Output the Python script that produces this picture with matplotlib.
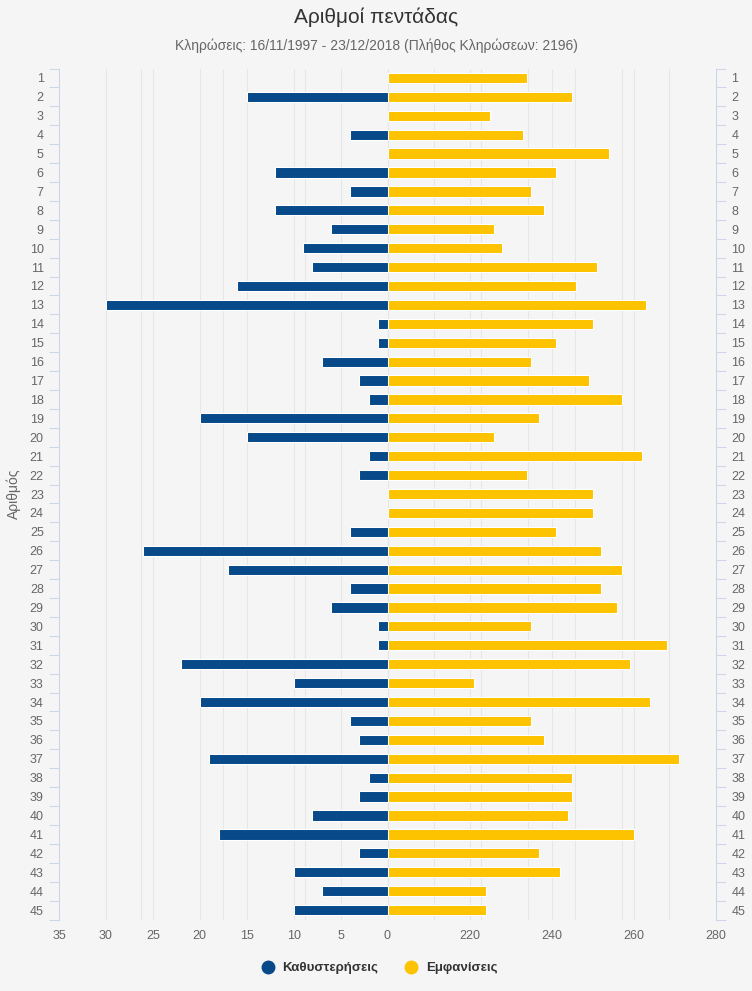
import matplotlib.pyplot as plt
from matplotlib.lines import Line2D
from matplotlib.transforms import blended_transform_factory

plt.rcParams['font.family'] = ['Liberation Sans', 'DejaVu Sans']

numbers = list(range(1, 46))
delays = [0, 15, 0, 4, 0, 12, 4, 12, 6, 9, 8, 16, 30, 1, 1, 7, 3, 2, 20, 15,
          2, 3, 0, 0, 4, 26, 17, 4, 6, 1, 1, 22, 10, 20, 4, 3, 19, 2, 3, 8,
          18, 3, 10, 7, 10]
appearances = [234, 245, 225, 233, 254, 241, 235, 238, 226, 228, 251, 246, 263, 250, 241,
               235, 249, 257, 237, 226, 262, 234, 250, 250, 241, 252, 257, 252, 256, 235,
               268, 259, 221, 264, 235, 238, 271, 245, 245, 244, 260, 237, 242, 224, 224]
delay_grid = list(range(-35, 40, 5))
appear_grid = [140, 160, 180, 200, 220, 240, 260]
appear_ticks = [220, 240, 260, 280]
base = 200

blue = '#084a89'
yellow = '#fdc300'
bg = '#f5f5f5'
axis_col = '#ccd6eb'
grid_col = '#e6e6e6'
txt = '#666666'

fig = plt.figure(figsize=(7.52, 9.91), dpi=100, facecolor=bg)
ax = fig.add_axes([59 / 752, 71.5 / 991, 657 / 752, 851 / 991])
ax.set_facecolor(bg)

# left side: delays
ax.barh(numbers, delays, height=0.54, color=blue, edgecolor='white', linewidth=0.75, zorder=3)
ax.set_xlim(35, -35)
ax.set_ylim(45.5, 0.5)
ax.set_xticks(delay_grid)
ax.set_xticklabels([str(v) if v >= 0 else '' for v in delay_grid])
ax.grid(axis='x', color=grid_col, linewidth=0.75, zorder=0)
ax.set_axisbelow(True)

# right side: appearances on its own scale
ax2 = ax.twiny()
ax2.set_xlim(120, 280)
ax2.patch.set_visible(False)
ax2.barh(numbers, [a - base for a in appearances], left=base, height=0.54,
         color=yellow, edgecolor='white', linewidth=0.75, zorder=3)
ax2.xaxis.set_ticks_position('bottom')
ax2.set_xticks(appear_ticks)
trans = blended_transform_factory(ax2.transData, ax.transAxes)
ax.vlines(appear_grid, 0, 1, transform=trans, color=grid_col, linewidth=0.75, zorder=0)

for a in (ax, ax2):
    for s in ('top', 'bottom'):
        a.spines[s].set_visible(False)
    a.tick_params(axis='x', length=0, pad=7.5, labelsize=9, labelcolor=txt)
for s in ('left', 'right'):
    ax.spines[s].set_color(axis_col)
    ax.spines[s].set_linewidth(0.75)
    ax2.spines[s].set_visible(False)

ax.set_yticks(numbers)
ax.set_yticks([n + 0.5 for n in [0] + numbers], minor=True)
ax.tick_params(axis='y', which='major', length=0, pad=11, labelsize=9,
               labelcolor=txt, left=True, right=True, labelleft=True, labelright=True)
ax.tick_params(axis='y', which='minor', length=7, width=0.75, color=axis_col,
               left=True, right=True)

fig.text(0.5, 1 - 17 / 991, 'Αριθμοί πεντάδας', ha='center', va='center',
         fontsize=15, color='#333333')
fig.text(0.5, 1 - 46 / 991, 'Κληρώσεις: 16/11/1997 - 23/12/2018 (Πλήθος Κληρώσεων: 2196)',
         ha='center', va='center', fontsize=10, color=txt)
fig.text(14 / 752, 1 - 494 / 991, 'Αριθμός', rotation=90, ha='center', va='center',
         fontsize=10, color=txt)

handles = [Line2D([], [], marker='o', linestyle='none', markersize=9, color=blue),
           Line2D([], [], marker='o', linestyle='none', markersize=9, color=yellow)]
leg = fig.legend(handles, ['Καθυστερήσεις', 'Εμφανίσεις'], loc='center',
                 bbox_to_anchor=(0.5, 1 - 968 / 991), ncol=2, frameon=False,
                 handletextpad=0.1, columnspacing=1.5, prop={'weight': 'bold', 'size': 9.5})
for t in leg.get_texts():
    t.set_color('#333333')

fig.savefig('out.png', dpi=100, facecolor=bg)
